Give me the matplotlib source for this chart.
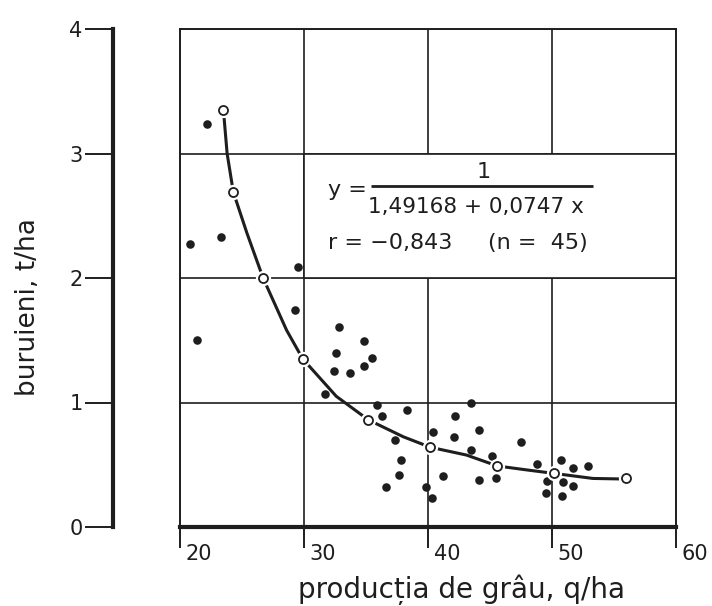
import numpy as np
import matplotlib.pyplot as plt
from matplotlib.patches import Rectangle
from matplotlib.transforms import ScaledTranslation

plt.rcParams['font.family'] = ['DejaVu Sans']
ink = '#1e1e1e'

# wheat yield (q/ha) vs weeds (t/ha)
dots_x = [22.2, 20.8, 23.3, 29.5, 29.3, 21.4, 32.8, 34.8, 32.6, 35.5, 32.4,
          33.7, 34.8, 31.7, 35.9, 38.3, 36.3, 37.3, 40.4, 37.8, 37.7, 36.6,
          39.8, 40.3, 41.2, 42.2, 42.1, 43.5, 44.1, 47.5, 43.5, 45.2, 48.8,
          50.7, 44.1, 45.5, 49.6, 49.5, 50.8, 51.7, 52.9, 50.9, 51.7]
dots_y = [3.24, 2.27, 2.33, 2.09, 1.74, 1.50, 1.61, 1.49, 1.40, 1.36, 1.25,
          1.24, 1.29, 1.07, 0.98, 0.94, 0.89, 0.70, 0.76, 0.54, 0.42, 0.32,
          0.32, 0.23, 0.41, 0.89, 0.72, 1.00, 0.78, 0.68, 0.62, 0.57, 0.51,
          0.54, 0.38, 0.39, 0.37, 0.27, 0.25, 0.47, 0.49, 0.36, 0.33]

# fitted curve and its marked points
curve_x = [23.5, 23.8, 24.3, 25.4, 26.7, 28.6, 29.9, 32.6, 35.2, 38.0, 40.2,
           43.1, 45.6, 48.0, 50.2, 53.3, 56.0]
curve_y = [3.35, 3.0, 2.69, 2.36, 2.0, 1.58, 1.35, 1.05, 0.86, 0.725, 0.64,
           0.578, 0.49, 0.458, 0.43, 0.39, 0.385]
circ_x = [23.5, 24.3, 26.7, 29.9, 35.2, 40.2, 45.6, 50.2, 56.0]
circ_y = [3.35, 2.69, 2.0, 1.35, 0.86, 0.64, 0.49, 0.43, 0.39]

xticks = [20, 30, 40, 50, 60]
yticks = [0, 1, 2, 3, 4]

W, H = 712, 606
fig = plt.figure(figsize=(W / 100, H / 100), dpi=100)
fig.patch.set_facecolor('white')

# main plot box
left, right, top, bot = 180, 676, 29, 527
ax = fig.add_axes([left / W, 1 - bot / H, (right - left) / W, (bot - top) / H])
ax.set_xlim(20, 60)
ax.set_ylim(0, 4)
ax.set_axisbelow(True)
for s in ['left', 'right', 'top']:
    ax.spines[s].set_linewidth(1.4)
    ax.spines[s].set_color(ink)
ax.spines['bottom'].set_linewidth(3.0)
ax.spines['bottom'].set_color(ink)
ax.set_xticks(xticks)
ax.set_xticklabels([str(t) for t in xticks])
ax.set_yticks(yticks)
ax.tick_params(axis='x', direction='out', length=15, width=1.4, color=ink,
               labelsize=15, labelcolor=ink, pad=-2.5)
ax.tick_params(axis='y', left=False, labelleft=False)
for lab in ax.get_xticklabels():
    lab.set_horizontalalignment('left')
    lab.set_transform(lab.get_transform() + ScaledTranslation(4 / 72, 0, fig.dpi_scale_trans))
ax.grid(True, color=ink, linewidth=1.2)

# empty cell holding the equation
ax.add_patch(Rectangle((30, 2), 30, 1, facecolor='white', edgecolor=ink,
                       linewidth=1.2, zorder=1))

ax.scatter(dots_x, dots_y, s=38, color=ink, zorder=3, linewidths=0)
ax.plot(curve_x, curve_y, color=ink, linewidth=2.2, zorder=3,
        solid_capstyle='round')
ax.plot(circ_x, circ_y, 'o', markersize=10, color='white', zorder=4)
ax.plot(circ_x, circ_y, 'o', markersize=6.5, markerfacecolor='white',
        markeredgecolor=ink, markeredgewidth=1.3, zorder=5)

# equation
ax.text(31.9, 2.71, 'y =', fontsize=16, color=ink, ha='left', va='center', zorder=6)
ax.text(44.5, 2.85, '1', fontsize=16, color=ink, ha='center', va='center', zorder=6)
ax.hlines(2.735, 35.4, 53.3, color=ink, linewidth=2.0, zorder=6)
ax.text(43.9, 2.57, '1,49168 + 0,0747 x', fontsize=15.5, color=ink,
        ha='center', va='center', zorder=6)
ax.text(31.9, 2.28, 'r = \u22120,843     (n =  45)', fontsize=16, color=ink,
        ha='left', va='center', zorder=6)

# separate y axis on the left
ay = fig.add_axes([113 / W, 1 - bot / H, 0.0001, (bot - top) / H])
ay.set_ylim(0, 4)
ay.set_xticks([])
ay.set_yticks(yticks)
ay.set_yticklabels([str(t) for t in yticks])
for s in ['right', 'top', 'bottom']:
    ay.spines[s].set_visible(False)
ay.spines['left'].set_linewidth(3.0)
ay.spines['left'].set_color(ink)
ay.tick_params(axis='y', direction='out', length=20, width=1.4, color=ink,
               labelsize=15, labelcolor=ink, pad=2)
ay.patch.set_alpha(0)

fig.text(28 / W, 1 - 307 / H, 'buruieni, t/ha', rotation=90, fontsize=19,
         color=ink, ha='center', va='center')
fig.text(461 / W, 1 - 598 / H, 'producția de grâu, q/ha', fontsize=20,
         color=ink, ha='center', va='baseline')

fig.savefig('out.png', dpi=100, facecolor='white')
